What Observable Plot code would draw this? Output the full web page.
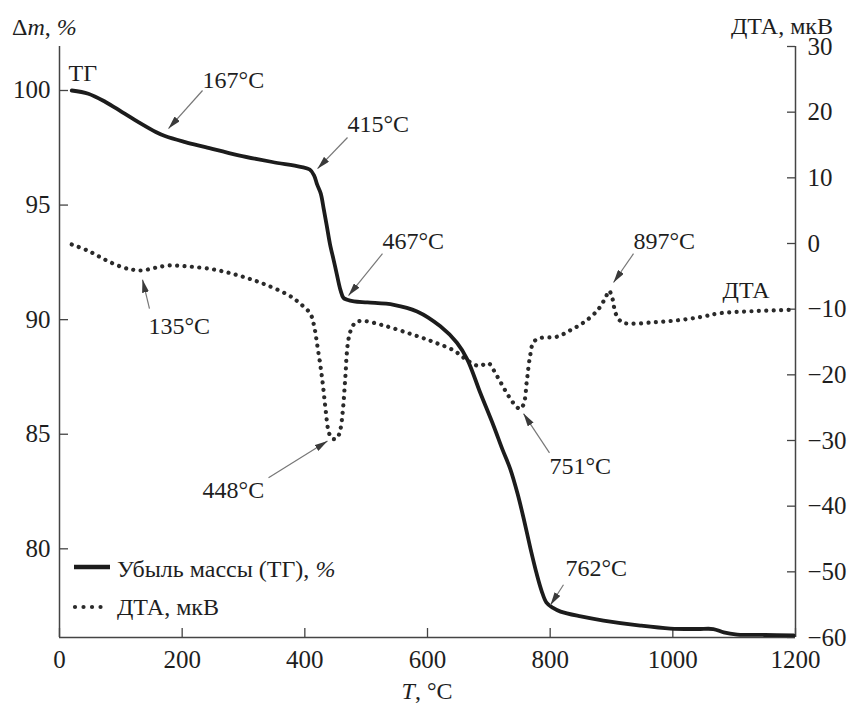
<!DOCTYPE html>
<html><head><meta charset="utf-8">
<script src="https://cdn.jsdelivr.net/npm/d3@7"></script>
<script src="https://cdn.jsdelivr.net/npm/@observablehq/plot@0.6"></script>
<style>body{margin:0;background:#fff} #chart{position:relative;width:855px;height:706px}
#chart svg text{font-family:'Liberation Serif','Times New Roman',serif}</style>
</head><body><div id="chart"></div>
<script>
// ТГ (mass loss) curve
const tgTemp = [20,47,75,102,130,157,173,205,238,292,347,393,408,415,420,426,431,436,441,447,452,458,463,469,480,502,545,583,621,648,665,686,708,722,735,747,757,768,778,786,794,804,817,850,887,947,996,1040,1066,1083,1105,1150,1197];
const tgMass = [100.0,99.86,99.5,99.06,98.6,98.19,98.0,97.75,97.53,97.17,96.88,96.67,96.55,96.3,95.9,95.5,94.8,94.06,93.3,92.6,92.0,91.3,90.95,90.87,90.8,90.75,90.65,90.36,89.71,88.99,88.26,86.81,85.35,84.35,83.48,82.39,81.3,80.0,78.91,78.17,77.65,77.43,77.26,77.05,76.87,76.65,76.52,76.5,76.5,76.35,76.26,76.24,76.22];
// ДТА curve (мкВ)
const dtaTemp = [20,48,75,102,120,135,156,178,211,254,292,330,374,393,409,415,420,428,434,438,443,448,453,458,462,466,470,475,483,496,529,572,610,643,665,681,690,697,702,708,719,730,741,751,757,762,767,773,784,811,833,855,877,890,896,901,907,917,931,969,1007,1045,1078,1132,1189];
const dtaValue = [-0.15,-1.17,-2.5,-3.6,-4.0,-4.1,-3.7,-3.35,-3.5,-4.0,-4.87,-6.04,-7.9,-9.2,-10.7,-12.5,-15.3,-20.4,-25.4,-28.3,-29.6,-29.8,-29.6,-28.3,-25.4,-20.4,-15.3,-13.2,-12.0,-11.8,-12.5,-13.75,-15.0,-16.3,-17.8,-18.6,-18.5,-18.2,-18.4,-19.3,-21.1,-22.9,-24.4,-25.2,-24.4,-20.9,-17.3,-15.0,-14.4,-14.2,-13.2,-12.0,-10.2,-8.3,-7.2,-8.2,-10.7,-12.0,-12.2,-12.0,-11.7,-11.2,-10.6,-10.3,-10.1];

const xTicks = [0,200,400,600,800,1000,1200];
const massTicks = [80,85,90,95,100];
const dtaTicks = [-60,-50,-40,-30,-20,-10,0,10,20,30];
const massDomain = [76.13,101.92];
const dtaDomain = [-60,30];

// annotation labels (temperature, Δm-scale value)
const labelText = ["ТГ","167°C","415°C","467°C","135°C","448°C","751°C","762°C","897°C","ДТА"];
const labelT    = [14.7,233.2,469.6,526.6,145.1,233.2,798.9,825,935.9,1081];
const labelM    = [100.76,100.46,98.52,93.41,89.72,82.55,83.58,79.13,93.41,91.27];
// arrows: tail -> head
const arrowT1 = [233.2,469.6,526.6,146.7,340.8,798.9,821.7,935.9];
const arrowM1 = [100.0,97.95,92.88,90.48,83.1,84.19,78.43,92.88];
const arrowT2 = [177.7,420.7,471.2,135.3,437.0,756.5,800.5,903.3];
const arrowM2 = [98.34,96.59,91.05,91.75,84.7,85.9,77.55,91.62];

const k = (massDomain[1]-massDomain[0])/(dtaDomain[1]-dtaDomain[0]);
const dtaToMass = d => massDomain[0] + (d - dtaDomain[0]) * k;
const massToDta = m => Math.round((m - massDomain[0]) / k + dtaDomain[0]);

const tg = tgTemp.map((t,i)=>({t, m: tgMass[i]}));
const dta = dtaTemp.map((t,i)=>({t, m: dtaToMass(dtaValue[i])}));
const labels = labelText.map((s,i)=>({s, t: labelT[i], m: labelM[i]}));
const arrows = arrowT1.map((t,i)=>({t1:t, m1:arrowM1[i], t2:arrowT2[i], m2:arrowM2[i]}));

const W = 855, H = 706, mL = 59, mR = 60, mT = 46, mB = 69;
const fw = W - mL - mR, fh = H - mT - mB;
const axisColor = "#444";
const font = "'Liberation Serif', 'Times New Roman', serif";

const plot = Plot.plot({
  width: W, height: H,
  marginLeft: mL, marginRight: mR, marginTop: mT, marginBottom: mB,
  x: {domain: [0,1200]},
  y: {domain: massDomain},
  style: {fontFamily: font, fontSize: "25px", color: "#1e1e1e", background: "#fff"},
  marks: [
    Plot.axisX({ticks: xTicks, tickSize: 0, tickPadding: 13, tickFormat: d => String(d), label: null, fontFamily: font}),
    Plot.axisY({ticks: massTicks, tickSize: 0, tickPadding: 9, tickFormat: d => String(d), label: null, fontFamily: font}),
    Plot.axisY({anchor: "right", ticks: dtaTicks.map(dtaToMass), tickSize: 0, tickPadding: 12,
      tickFormat: m => String(massToDta(m)).replace("-", "\u2212"), label: null, fontFamily: font}),
    Plot.tickY(massTicks, {y: d => d, insetRight: fw - 9, stroke: axisColor, strokeWidth: 1.3}),
    Plot.tickY(dtaTicks.map(dtaToMass), {y: d => d, insetLeft: fw - 8, stroke: axisColor, strokeWidth: 1.3}),
    Plot.tickX(xTicks, {x: d => d, insetTop: fh - 9, stroke: axisColor, strokeWidth: 1.3}),
    Plot.ruleX([0,1200], {stroke: axisColor, strokeWidth: 1.5}),
    Plot.ruleY([massDomain[0]], {stroke: axisColor, strokeWidth: 1.5}),
    Plot.line(dta, {x: "t", y: "m", stroke: "#2a2a2a", strokeWidth: 4.2, strokeDasharray: "0.01 7.4", strokeLinecap: "round", curve: "catmull-rom"}),
    Plot.line(tg, {x: "t", y: "m", stroke: "#1c1c1c", strokeWidth: 3.8, curve: "catmull-rom"}),
    Plot.link(arrows, {x1: "t1", y1: "m1", x2: "t2", y2: "m2", stroke: "#777", strokeWidth: 1.2}),
    Plot.text(labels, {x: "t", y: "m", text: "s", textAnchor: "start", lineAnchor: "middle", fontSize: 24, fill: "#1e1e1e", fontFamily: font})
  ]
});

const svg = d3.select(plot);
svg.attr("font-family", font);
// filled arrow heads
const defs = svg.insert("defs", ":first-child");
defs.append("marker").attr("id","ahead").attr("viewBox","-13 -3.5 13 7")
  .attr("refX",0).attr("refY",0).attr("markerWidth",13).attr("markerHeight",7)
  .attr("markerUnits","userSpaceOnUse").attr("orient","auto")
  .append("path").attr("d","M-13,-3.5L0,0L-13,3.5Z").attr("fill","#3a3a3a");
svg.selectAll("g[aria-label=link] path, g[aria-label=link] line").attr("marker-end","url(#ahead)");

// axis titles
const t1 = svg.append("text").attr("x",12).attr("y",35).attr("text-anchor","start").attr("font-size",24).attr("fill","#1e1e1e").attr("font-family",font);
t1.append("tspan").text("Δ");
t1.append("tspan").attr("font-style","italic").text("m");
t1.append("tspan").text(", ");
t1.append("tspan").attr("font-style","italic").text("%");
svg.append("text").attr("x",833).attr("y",34).attr("text-anchor","end").attr("font-size",24).attr("fill","#1e1e1e").attr("font-family",font).text("ДТА, мкВ");
const t3 = svg.append("text").attr("x",427).attr("y",699).attr("text-anchor","middle").attr("font-size",24).attr("fill","#1e1e1e").attr("font-family",font);
t3.append("tspan").attr("font-style","italic").text("T");
t3.append("tspan").text(", °C");

// legend
const lg = svg.append("g").attr("font-family",font).attr("font-size",24).attr("fill","#1e1e1e").attr("text-anchor","start");
lg.append("line").attr("x1",74).attr("x2",110).attr("y1",567).attr("y2",567).attr("stroke","#1c1c1c").attr("stroke-width",4.5);
const l1 = lg.append("text").attr("x",117).attr("y",577);
l1.append("tspan").text("Убыль массы (ТГ), ");
l1.append("tspan").attr("font-style","italic").text("%");
lg.append("line").attr("x1",75).attr("x2",101).attr("y1",607).attr("y2",607).attr("stroke","#2a2a2a").attr("stroke-width",4.2).attr("stroke-dasharray","0.01 8.5").attr("stroke-linecap","round");
lg.append("text").attr("x",117).attr("y",615).text("ДТА, мкВ");

document.getElementById("chart").appendChild(plot);
</script>
</body></html>
